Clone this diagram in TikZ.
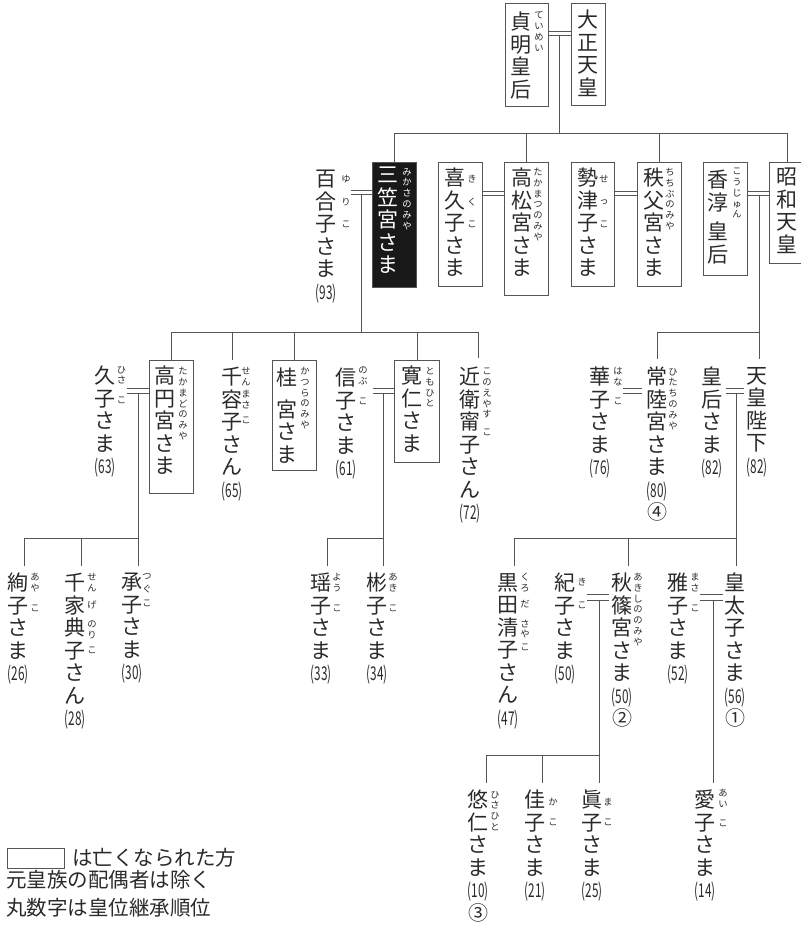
\documentclass[tikz,border=0pt]{standalone}
\usepackage{fontspec}
\usepackage{graphicx}
\newfontfamily\jp{Noto Sans CJK JP}
\definecolor{lnc}{HTML}{555555}
\definecolor{txc}{HTML}{2A2A2A}
\newcommand\mainjp{\jp\fontsize{21}{22.5}\selectfont}
\newcommand\rubyjp{\jp\fontsize{9.3}{10.8}\selectfont}
\newcommand\lgjp{\jp\fontsize{20.5}{22}\selectfont}
\newcommand\agev[1]{{\fontsize{19}{19}\selectfont\scalebox{0.62}[1]{(#1)}}}
\newcommand\rankv[1]{{\fontsize{20}{20}\selectfont #1}}
\tikzset{
  vt/.style={inner sep=0pt, anchor=north, align=center, font=\mainjp, text=txc},
  ru/.style={inner sep=0pt, anchor=north, align=center, font=\rubyjp, text=txc},
  pbox/.style={draw=lnc, line width=0.8pt, inner sep=0pt, anchor=north west},
  ln/.style={draw=lnc, line width=0.8pt},
  lg/.style={inner sep=0pt, font=\lgjp, text=txc},
}
\begin{document}
\begin{tikzpicture}[x=1pt,y=-1pt]
\useasboundingbox (0,0) rectangle (801,927);
% row coordinates
\coordinate (r1) at (0,133);
\coordinate (r2) at (0,332);
\coordinate (r3) at (0,538);
\coordinate (r4) at (0,755);
% ---------- generation 1
\node[pbox, minimum width=43, minimum height=103] (bTeimei) at (505,3) {};
\node[vt] (tTeimei) at (521,12) {貞\\明\\皇\\后};
\node[ru] (fTeimei) at (539,12) {て\\い\\め\\い};
\node[pbox, minimum width=34, minimum height=102] (bTaisho) at (571,3) {};
\node[vt] (tTaisho) at (588,10) {大\\正\\天\\皇};
\draw[ln] (bTeimei.east |- 0,31) -- (bTaisho.west |- 0,31);
\draw[ln] (bTeimei.east |- 0,35) -- (bTaisho.west |- 0,35);
\coordinate (dTaisho) at (559,35);
\draw[ln] (dTaisho) -- (dTaisho |- r1);
% ---------- generation 2
\node[pbox, minimum width=44, minimum height=125, fill=black!90] (bMikasa) at (372,162) {};
\node[vt, text=white] (tMikasa) at (388,167) {三\\笠\\宮\\さ\\ま};
\node[ru, text=white] (fMikasa) at (407,168) {み\\か\\さ\\の\\み\\や};
\node[vt] (tYuriko) at (326,170) {百\\合\\子\\さ\\ま\\\agev{93}};
\node[ru] (fYuriko) at (346,175) {ゆ\\[11.7pt]り\\[11.7pt]こ};
\draw[ln] (fYuriko.east |- 0,190) -- (bMikasa.west |- 0,190);
\draw[ln] (fYuriko.east |- 0,194) -- (bMikasa.west |- 0,194);
\coordinate (dMikasa) at (361,194);

\node[pbox, minimum width=44, minimum height=124] (bKikuko) at (438,162) {};
\node[vt] (tKikuko) at (455,168) {喜\\久\\子\\さ\\ま};
\node[ru] (fKikuko) at (472,175) {き\\[11.7pt]く\\[11.7pt]こ};
\node[pbox, minimum width=44, minimum height=133] (bTakamatsu) at (504,162) {};
\node[vt] (tTakamatsu) at (522,168) {高\\松\\宮\\さ\\ま};
\node[ru] (fTakamatsu) at (538,168) {た\\か\\ま\\つ\\の\\み\\や};
\draw[ln] (bKikuko.east |- 0,191) -- (bTakamatsu.west |- 0,191);
\draw[ln] (bKikuko.east |- 0,195) -- (bTakamatsu.west |- 0,195);

\node[pbox, minimum width=43, minimum height=124] (bSetsuko) at (571,162) {};
\node[vt] (tSetsuko) at (588,168) {勢\\津\\子\\さ\\ま};
\node[ru] (fSetsuko) at (604,175) {せ\\[11.7pt]っ\\[11.7pt]こ};
\node[pbox, minimum width=44, minimum height=124] (bChichibu) at (637,162) {};
\node[vt] (tChichibu) at (654,168) {秩\\父\\宮\\さ\\ま};
\node[ru] (fChichibu) at (670,168) {ち\\ち\\ぶ\\の\\み\\や};
\draw[ln] (bSetsuko.east |- 0,191) -- (bChichibu.west |- 0,191);
\draw[ln] (bSetsuko.east |- 0,195) -- (bChichibu.west |- 0,195);

\node[pbox, minimum width=44, minimum height=113] (bKojun) at (703,162) {};
\node[vt] (tKojun) at (718,170) {香\\淳\\[7pt]皇\\后};
\node[ru] (fKojun) at (737,168) {こ\\う\\じ\\ゅ\\ん};
\node[pbox, minimum width=36, minimum height=101] (bShowa) at (769,162) {};
\node[vt] (tShowa) at (787,168) {昭\\和\\天\\皇};
\draw[ln] (bKojun.east |- 0,191) -- (bShowa.west |- 0,191);
\draw[ln] (bKojun.east |- 0,195) -- (bShowa.west |- 0,195);
\coordinate (dShowa) at (759,195);

\draw[ln] (bMikasa.north) |- (r1 -| bShowa.north) -- (bShowa.north);
\draw[ln] (bTakamatsu.north) -- (bTakamatsu.north |- r1);
\draw[ln] (bChichibu.north) -- (bChichibu.north |- r1);
% ---------- generation 3 (Mikasa)
\node[vt] (tHisako) at (105,366) {久\\子\\さ\\ま\\\agev{63}};
\node[ru] (fHisako) at (121.5,366) {ひ\\さ\\[9pt]こ};
\node[pbox, minimum width=44, minimum height=133] (bTakamado) at (149,360) {};
\node[vt] (tTakamado) at (165,366) {高\\円\\宮\\さ\\ま};
\node[ru] (fTakamado) at (183,367) {た\\か\\ま\\ど\\の\\み\\や};
\draw[ln] ([xshift=1pt]fHisako.east |- 0,388) -- (bTakamado.west |- 0,388);
\draw[ln] ([xshift=1pt]fHisako.east |- 0,393) -- (bTakamado.west |- 0,393);
\coordinate (dTakamado) at (138,393);

\node[vt] (tMasakoS) at (232,367) {千\\容\\子\\さ\\ん\\\agev{65}};
\node[ru] (fMasakoS) at (246,367) {せ\\ん\\[2pt]ま\\さ\\[4pt]こ};
\node[pbox, minimum width=44, minimum height=110] (bKatsura) at (272,360) {};
\node[vt] (tKatsura) at (287,368) {桂\\[9pt]宮\\さ\\ま};
\node[ru] (fKatsura) at (305,367) {か\\つ\\ら\\の\\み\\や};

\node[vt] (tNobuko) at (346,368) {信\\子\\さ\\ま\\\agev{61}};
\node[ru] (fNobuko) at (363,367) {の\\ぶ\\[9pt]こ};
\node[pbox, minimum width=45, minimum height=102] (bTomohito) at (394,360) {};
\node[vt] (tTomohito) at (412,366) {寛\\仁\\さ\\ま};
\node[ru] (fTomohito) at (430,367) {と\\も\\ひ\\と};
\draw[ln] ([xshift=5pt]fNobuko.east |- 0,388) -- (bTomohito.west |- 0,388);
\draw[ln] ([xshift=5pt]fNobuko.east |- 0,393) -- (bTomohito.west |- 0,393);
\coordinate (dTomohito) at (383,393);

\node[vt] (tYasuko) at (470,367) {近\\衛\\甯\\子\\さ\\ん\\\agev{72}};
\node[ru] (fYasuko) at (487,368) {こ\\の\\え\\や\\す\\[7pt]こ};
\coordinate (cYasuko) at (478,358);

\draw[ln] (bTakamado.north) |- (r2 -| cYasuko) -- (cYasuko);
\draw[ln] (dMikasa) -- (dMikasa |- r2);
\draw[ln] ([yshift=7pt]tMasakoS.north) -- (tMasakoS.north |- r2);
\draw[ln] (bKatsura.north) -- (bKatsura.north |- r2);
\draw[ln] (bTomohito.north) -- (bTomohito.north |- r2);
% ---------- generation 3 (Showa)
\node[vt] (tHanako) at (600,367) {華\\子\\さ\\ま\\\agev{76}};
\node[ru] (fHanako) at (618,367) {は\\な\\[9pt]こ};
\node[vt] (tHitachi) at (657,367) {常\\陸\\宮\\さ\\ま\\\agev{80}\\\rankv{④}};
\node[ru] (fHitachi) at (673,368) {ひ\\た\\ち\\の\\み\\や};
\draw[ln] (fHanako.east |- 0,388) -- ([xshift=-4pt]tHitachi.west |- 0,388);
\draw[ln] (fHanako.east |- 0,393) -- ([xshift=-4pt]tHitachi.west |- 0,393);
\node[vt] (tKogo) at (712,367) {皇\\后\\さ\\ま\\\agev{82}};
\node[vt] (tTenno) at (757,367) {天\\皇\\陛\\下\\\agev{82}};
\draw[ln] ([xshift=3pt]tKogo.east |- 0,388) -- ([xshift=-2pt]tTenno.west |- 0,388);
\draw[ln] ([xshift=3pt]tKogo.east |- 0,393) -- ([xshift=-2pt]tTenno.west |- 0,393);
\coordinate (dEmperor) at (736,393);
\draw[ln] (dShowa) -- ([yshift=8pt]dShowa |- tTenno.north);
\draw[ln] ([yshift=8pt]tHitachi.north) |- (dShowa |- r2);
% ---------- generation 4 (Takamado)
\node[vt] (tAyako) at (18,573) {絢\\子\\さ\\ま\\\agev{26}};
\node[ru] (fAyako) at (35,573) {あ\\や\\[9pt]こ};
\node[vt] (tNoriko) at (75,573) {千\\家\\典\\子\\さ\\ん\\\agev{28}};
\node[ru] (fNoriko) at (92,573) {せ\\ん\\[7pt]げ\\[8pt]の\\り\\[4pt]こ};
\node[vt] (tTsuguko) at (132,573) {承\\子\\さ\\ま\\\agev{30}};
\node[ru] (fTsuguko) at (147,573) {つ\\[2pt]ぐ\\[4pt]こ};
\coordinate (cAyako) at (24,566);
\coordinate (cNoriko) at (81,566);
\coordinate (cTsuguko) at (138,566);
\draw[ln] (cAyako) |- (r3 -| cTsuguko);
\draw[ln] (dTakamado) -- (cTsuguko);
\draw[ln] (cNoriko) -- (cNoriko |- r3);
% ---------- generation 4 (Tomohito)
\node[vt] (tYoko) at (321,573) {瑶\\子\\さ\\ま\\\agev{33}};
\node[ru] (fYoko) at (337,573) {よ\\う\\[9pt]こ};
\node[vt] (tAkiko) at (377,573) {彬\\子\\さ\\ま\\\agev{34}};
\node[ru] (fAkiko) at (393,573) {あ\\き\\[9pt]こ};
\coordinate (cYoko) at (327,566);
\coordinate (cAkiko) at (383,566);
\draw[ln] (cYoko) |- (r3 -| cAkiko);
\draw[ln] (dTomohito) -- (cAkiko);
% ---------- generation 4 (Emperor)
\node[vt] (tSayako) at (508,573) {黒\\田\\清\\子\\さ\\ん\\\agev{47}};
\node[ru] (fSayako) at (525,573) {く\\ろ\\[5pt]だ\\[9pt]さ\\や\\[2pt]こ};
\node[vt] (tKiko) at (565,573) {紀\\子\\さ\\ま\\\agev{50}};
\node[ru] (fKiko) at (582,578) {き\\[11.7pt]こ};
\node[vt] (tAkishino) at (622,573) {秋\\篠\\宮\\さ\\ま\\\agev{50}\\\rankv{②}};
\node[ru] (fAkishino) at (638,573) {あ\\き\\し\\の\\の\\み\\や};
\draw[ln] (fKiko.east |- 0,594) -- ([xshift=-2pt]tAkishino.west |- 0,594);
\draw[ln] (fKiko.east |- 0,600) -- ([xshift=-2pt]tAkishino.west |- 0,600);
\coordinate (dAkishino) at (599,600);
\node[vt] (tMasako) at (678,573) {雅\\子\\さ\\ま\\\agev{52}};
\node[ru] (fMasako) at (695,573) {ま\\さ\\[9pt]こ};
\node[vt] (tNaruhito) at (735,573) {皇\\太\\子\\さ\\ま\\\agev{56}\\\rankv{①}};
\draw[ln] (fMasako.east |- 0,594) -- ([xshift=-1pt]tNaruhito.west |- 0,594);
\draw[ln] (fMasako.east |- 0,600) -- ([xshift=-1pt]tNaruhito.west |- 0,600);
\coordinate (dNaruhito) at (713,600);
\coordinate (cSayako) at (514,566);
\coordinate (cAkishino) at (628,566);
\coordinate (cNaruhito) at (736,566);
\draw[ln] (cSayako) |- (r3 -| cNaruhito);
\draw[ln] (dEmperor) -- (cNaruhito);
\draw[ln] (cAkishino) -- (cAkishino |- r3);
% ---------- generation 5
\node[vt] (tHisahito) at (478,790) {悠\\仁\\さ\\ま\\\agev{10}\\\rankv{③}};
\node[ru] (fHisahito) at (495,791) {ひ\\さ\\ひ\\と};
\node[vt] (tKako) at (535,790) {佳\\子\\さ\\ま\\\agev{21}};
\node[ru] (fKako) at (553,798) {か\\[9.5pt]こ};
\node[vt] (tMako) at (592,790) {眞\\子\\さ\\ま\\\agev{25}};
\node[ru] (fMako) at (608,798) {ま\\[9.5pt]こ};
\node[vt] (tAiko) at (705,790) {愛\\子\\さ\\ま\\\agev{14}};
\node[ru] (fAiko) at (723,789) {あ\\い\\[8.5pt]こ};
\coordinate (cHisahito) at (486,783);
\coordinate (cKako) at (542,783);
\coordinate (cMako) at (599,783);
\coordinate (cAiko) at (713,783);
\draw[ln] (cHisahito) |- (r4 -| cMako);
\draw[ln] (dAkishino) -- (cMako);
\draw[ln] (cKako) -- (cKako |- r4);
\draw[ln] (dNaruhito) -- (cAiko);
% ---------- legend
\node[pbox, minimum width=57, minimum height=20] (lgBox) at (7,848) {};
\node[lg, anchor=west] (lg1) at (72,858) {は亡くなられた方};
\node[lg, anchor=west] (lg2) at (6,880) {元皇族の配偶者は除く};
\node[lg, anchor=west] (lg3) at (6,908) {丸数字は皇位継承順位};
\end{tikzpicture}
\end{document}
